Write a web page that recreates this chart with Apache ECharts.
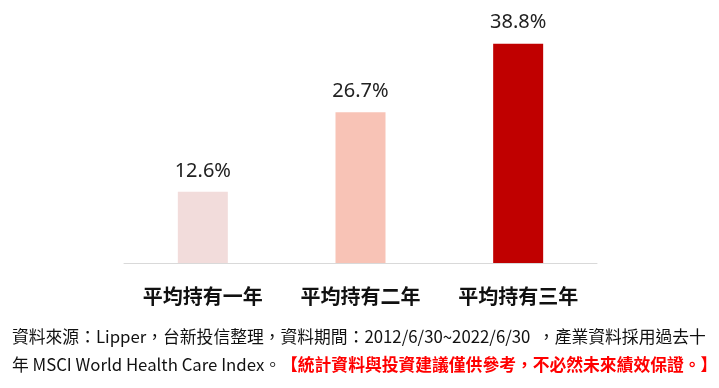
<!DOCTYPE html>
<html><head><meta charset="utf-8">
<script src="https://cdn.jsdelivr.net/npm/echarts@6/dist/echarts.min.js"></script>
<style>html,body{margin:0;padding:0;background:#fff}#c{width:719px;height:388px}</style>
</head><body><div id="c"></div>
<script>
const categories = ['平均持有一年', '平均持有二年', '平均持有三年'];
const values = [12.6, 26.7, 38.8];
const barColors = ['#F2DCDB', '#F8C3B6', '#C00000'];
const note1 = '資料來源：Lipper，台新投信整理，資料期間：2012/6/30~2022/6/30  ，產業資料採用過去十';
const note2a = '年 MSCI World Health Care Index。';
const note2b = '【統計資料與投資建議僅供參考，不必然未來績效保證。】';

const chart = echarts.init(document.getElementById('c'));
chart.setOption({
  animation: false,
  grid: { left: 124, right: 122, top: 37, bottom: 125 },
  xAxis: {
    type: 'category', data: categories,
    axisLine: { lineStyle: { color: '#D9D9D9', width: 1 } },
    axisTick: { show: false },
    axisLabel: { margin: 23, fontSize: 20, fontWeight: 'bold', color: '#111',
      fontFamily: 'Noto Sans CJK TC' }
  },
  yAxis: { type: 'value', min: 0, max: 40, show: false, splitLine: { show: false } },
  series: [{
    type: 'bar', barWidth: 50,
    data: values.map((v, i) => ({ value: v, itemStyle: { color: barColors[i] } })),
    label: { show: true, position: 'top', distance: 11, fontSize: 20, color: '#222',
      fontFamily: 'Noto Sans', formatter: p => p.value.toFixed(1) + '%' }
  }],
  graphic: [
    { type: 'text', left: 12, top: 328, style: { text: note1, fontSize: 16.8, fill: '#111',
      fontFamily: 'Noto Sans CJK TC' } },
    { type: 'text', left: 12, top: 356, style: {
      text: '{a|' + note2a + '}{b|' + note2b + '}',
      rich: {
        a: { fontSize: 16.8, fill: '#111', fontFamily: 'Noto Sans CJK TC' },
        b: { fontSize: 16.8, fill: '#FF0000', fontWeight: 'bold', fontFamily: 'Noto Sans CJK TC' }
      } } }
  ]
});
</script></body></html>
